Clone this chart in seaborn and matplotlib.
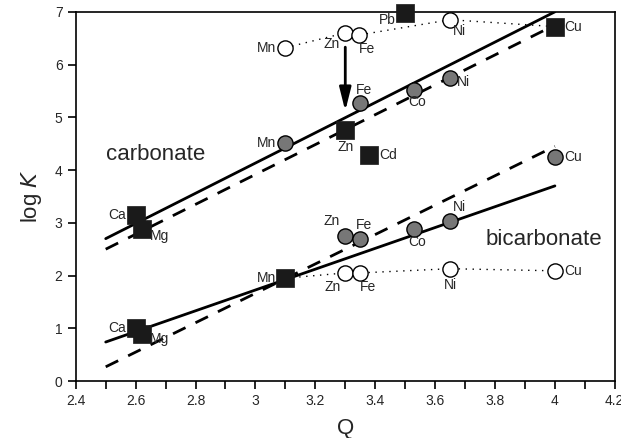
import numpy as np
import pandas as pd
import matplotlib
matplotlib.use("Agg")
import matplotlib.pyplot as plt
from matplotlib.ticker import MultipleLocator
import seaborn as sns

# fitted lines (Q endpoints, log K endpoints)
fit_q = [2.5, 4.0]
carb_solid = [2.70, 7.00]
carb_dash = [2.50, 6.75]
bicarb_solid = [0.74, 3.70]
bicarb_dash = [0.27, 4.45]

# carbonate
carb_sq_ion = ["Ca", "Mg", "Zn", "Cd", "Pb", "Cu"]
carb_sq_q = [2.60, 2.62, 3.30, 3.38, 3.50, 4.00]
carb_sq_k = [3.15, 2.88, 4.76, 4.29, 6.98, 6.72]
carb_gray_ion = ["Mn", "Fe", "Co", "Ni"]
carb_gray_q = [3.10, 3.35, 3.53, 3.65]
carb_gray_k = [4.52, 5.28, 5.52, 5.75]
carb_open_ion = ["Mn", "Zn", "Fe", "Ni", "Cu"]
carb_open_q = [3.10, 3.30, 3.345, 3.65, 4.00]
carb_open_k = [6.32, 6.60, 6.56, 6.85, 6.72]

# bicarbonate
bicarb_sq_ion = ["Ca", "Mg", "Mn"]
bicarb_sq_q = [2.60, 2.62, 3.10]
bicarb_sq_k = [1.00, 0.90, 1.95]
bicarb_gray_ion = ["Zn", "Fe", "Co", "Ni", "Cu"]
bicarb_gray_q = [3.30, 3.35, 3.53, 3.65, 4.00]
bicarb_gray_k = [2.75, 2.69, 2.88, 3.04, 4.25]
bicarb_open_ion = ["Mn", "Zn", "Fe", "Ni", "Cu"]
bicarb_open_q = [3.10, 3.30, 3.35, 3.65, 4.00]
bicarb_open_k = [1.95, 2.05, 2.05, 2.13, 2.09]

xtick_labels = ["2.4", "2.6", "2.8", "3", "3.2", "3.4", "3.6", "3.8", "4", "4.2"]

sns.set_style("ticks")
plt.rcParams["font.family"] = ["Liberation Sans", "DejaVu Sans"]

fig, ax = plt.subplots(figsize=(6.21, 4.38), dpi=100)
fig.subplots_adjust(left=0.122, right=0.990, bottom=0.130, top=0.973)

# dotted lines through open circles
sns.lineplot(x=carb_open_q, y=carb_open_k, ax=ax, color="black", lw=1.0,
             linestyle=(0, (1, 4)), sort=False, zorder=1)
sns.lineplot(x=bicarb_open_q, y=bicarb_open_k, ax=ax, color="black", lw=1.0,
             linestyle=(0, (1, 4)), sort=False, zorder=1)

# fits
for k, ls in [(carb_solid, "-"), (carb_dash, (0, (5, 4))),
              (bicarb_solid, "-"), (bicarb_dash, (0, (5, 4)))]:
    sns.lineplot(x=fit_q, y=k, ax=ax, color="black", lw=2.0, linestyle=ls, zorder=2)

open_kw = dict(marker="o", s=120, facecolor="white", edgecolor="black", linewidth=1.0,
               zorder=3, clip_on=False)
gray_kw = dict(marker="o", s=120, facecolor="#777777", edgecolor="black", linewidth=1.0,
               zorder=4, clip_on=False)
sq_kw = dict(marker="s", s=150, facecolor="#1a1a1a", edgecolor="#1a1a1a", linewidth=0.5,
             zorder=5, clip_on=False)

sns.scatterplot(x=carb_open_q, y=carb_open_k, ax=ax, **open_kw)
sns.scatterplot(x=bicarb_open_q, y=bicarb_open_k, ax=ax, **open_kw)
sns.scatterplot(x=carb_gray_q, y=carb_gray_k, ax=ax, **gray_kw)
sns.scatterplot(x=bicarb_gray_q, y=bicarb_gray_k, ax=ax, **gray_kw)
sns.scatterplot(x=carb_sq_q, y=carb_sq_k, ax=ax, **sq_kw)
sns.scatterplot(x=bicarb_sq_q, y=bicarb_sq_k, ax=ax, **sq_kw)

# label offsets in points: (dx, dy, ha, va)
L = (-7, 0, "right", "center")
R = (7, 0, "left", "center")
B = (0, -7, "center", "top")
carb_sq_off = [L, (6, -5, "left", "center"), B, R, (-7, -5, "right", "center"), R]
carb_gray_off = [L, (-3, 4, "left", "bottom"), (-4, -4, "left", "top"), (5, -3, "left", "center")]
carb_open_off = [L, (-4, -3, "right", "top"), (0, -5, "left", "top"), (2, -3, "left", "top"), None]
bicarb_sq_off = [L, (6, -4, "left", "center"), L]
bicarb_gray_off = [(-4, 6, "right", "bottom"), (-3, 5, "left", "bottom"),
                   (-4, -4, "left", "top"), (2, 5, "left", "bottom"), R]
bicarb_open_off = [None, (-3, -5, "right", "top"), (0, -5, "left", "top"), B, R]

groups = [
    (carb_sq_ion, carb_sq_q, carb_sq_k, carb_sq_off),
    (carb_gray_ion, carb_gray_q, carb_gray_k, carb_gray_off),
    (carb_open_ion, carb_open_q, carb_open_k, carb_open_off),
    (bicarb_sq_ion, bicarb_sq_q, bicarb_sq_k, bicarb_sq_off),
    (bicarb_gray_ion, bicarb_gray_q, bicarb_gray_k, bicarb_gray_off),
    (bicarb_open_ion, bicarb_open_q, bicarb_open_k, bicarb_open_off),
]
for ions, qs, ks, offs in groups:
    for ion, q, k, off in zip(ions, qs, ks, offs):
        if off is None:
            continue
        dx, dy, ha, va = off
        ax.annotate(ion, (q, k), xytext=(dx, dy), textcoords="offset points",
                    ha=ha, va=va, fontsize=10, zorder=6)

# arrow from open Zn down to the carbonate line
ax.annotate("", xy=(3.30, 5.12), xytext=(3.30, 6.33),
            arrowprops=dict(arrowstyle="-|>,head_length=1.4,head_width=0.35",
                            color="black", lw=2.0, shrinkA=0, shrinkB=0))

ax.text(2.50, 4.30, "carbonate", fontsize=16, ha="left", va="center")
ax.text(3.77, 2.68, "bicarbonate", fontsize=16, ha="left", va="center")

ax.set_xlim(2.4, 4.2)
ax.set_ylim(0, 7)
ax.xaxis.set_minor_locator(MultipleLocator(0.1))
ax.yaxis.set_major_locator(MultipleLocator(1))
ax.set_xticks(np.arange(2.4, 4.21, 0.2))
ax.set_xticklabels(xtick_labels)
ax.tick_params(axis="both", which="both", direction="out", labelsize=10, width=1.2, color="black")
ax.tick_params(which="both", length=6)
for sp in ax.spines.values():
    sp.set_linewidth(1.2)
    sp.set_color("black")
    sp.set_visible(True)

ax.set_xlabel("Q", fontsize=16, labelpad=7)
ax.set_ylabel("log $\\mathit{K}$", fontsize=16, labelpad=8)

fig.savefig("out.png", dpi=100)
